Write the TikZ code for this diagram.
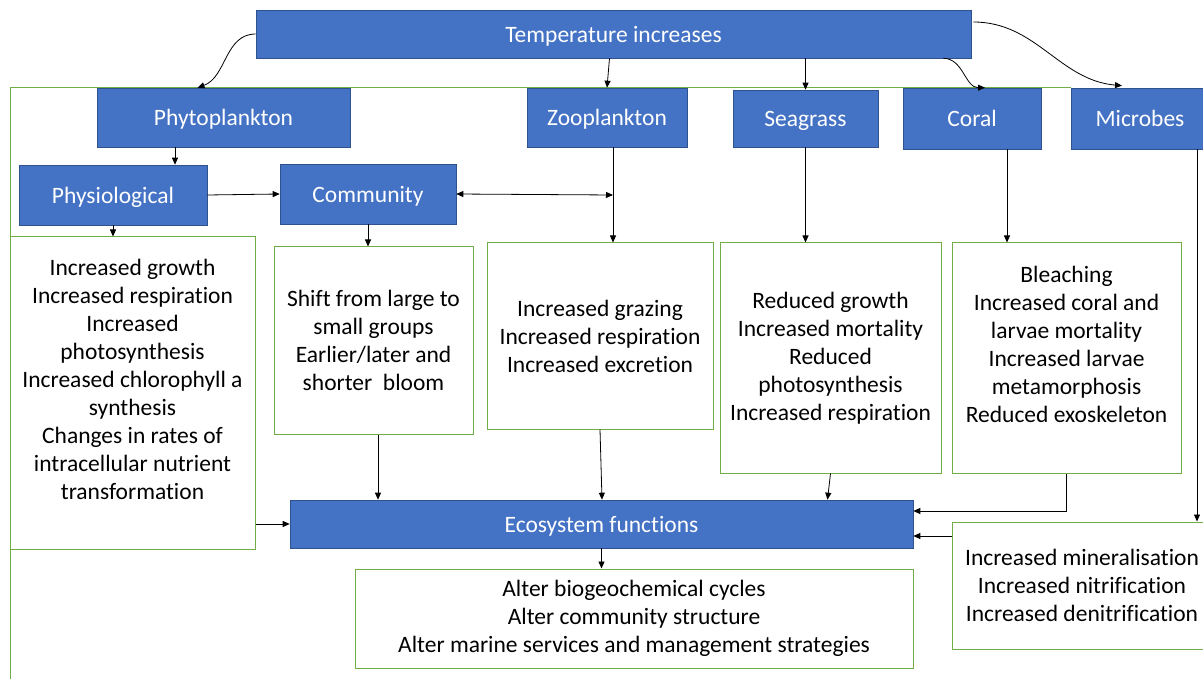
\documentclass[tikz,border=0pt]{standalone}
\usepackage{fontspec}
\setmainfont{Carlito}[Ligatures=NoCommon]
\usetikzlibrary{calc,arrows.meta}
\definecolor{bluefill}{HTML}{4472C4}
\definecolor{blueline}{HTML}{2F528F}
\definecolor{greenline}{HTML}{70AD47}
\tikzset{
  bbox/.style={rectangle, fill=bluefill, draw=blueline, line width=0.6pt, text=white, inner sep=0pt, align=center, text height=17pt, text depth=0pt, font=\fontsize{23.5}{28}\selectfont},
  gbox/.style={rectangle, fill=white, draw=greenline, line width=1pt, text=black, inner sep=0pt, align=center, font=\fontsize{23.5}{28}\selectfont},
  frameline/.style={draw=greenline, line width=1pt},
  arr/.style={draw=black, line width=0.8pt, -{Triangle[length=7pt,width=6pt]}},
  darr/.style={draw=black, line width=0.8pt, {Triangle[length=7pt,width=6pt]}-{Triangle[length=7pt,width=6pt]}}
}
\begin{document}
\begin{tikzpicture}[x=1pt,y=-1pt]
\useasboundingbox (0,0) rectangle (1203,679);
\clip (0,0) rectangle (1203,679);
\fill[white] (0,0) rectangle (1203,679);
% outer frame
\coordinate (fbl) at (10,690);
\coordinate (ftl) at (10,88);
\coordinate (ftr) at (1071,88);
\draw[frameline] (fbl) -- (ftl) -- (ftr);
% blue boxes
\node[bbox, minimum width=715, minimum height=48] (temp) at (613.5,34) {Temperature increases};
\node[bbox, minimum width=253, minimum height=59] (phyto) at (223.5,117.5) {Phytoplankton};
\node[bbox, minimum width=160, minimum height=59] (zoo) at (607,117.5) {Zooplankton};
\node[bbox, minimum width=145, minimum height=57] (sea) at (805.5,118.5) {Seagrass};
\node[bbox, minimum width=138, minimum height=61] (coral) at (972,118.5) {Coral};
\node[bbox, minimum width=138, minimum height=61] (microbes) at (1140,118.5) {Microbes};
\node[bbox, minimum width=188, minimum height=60] (phys) at (113,195) {Physiological};
\node[bbox, minimum width=176, minimum height=60] (comm) at (368,194) {Community};
\node[bbox, minimum width=623, minimum height=48] (eco) at (601.5,524) {Ecosystem functions};
% green text boxes
\node[gbox, minimum width=245, minimum height=312] (physbox) at (132.5,393) {Increased growth\\Increased respiration\\Increased\\photosynthesis\\Increased chlorophyll a\\synthesis\\Changes in rates of\\intracellular nutrient\\transformation\\~};
\node[gbox, minimum width=199, minimum height=187] (commbox) at (373.5,340.5) {Shift from large to\\small groups\\Earlier/later and\\shorter\ \ bloom};
\node[gbox, minimum width=226, minimum height=186] (zoobox) at (600,336) {Increased grazing\\Increased respiration\\Increased excretion};
\node[gbox, minimum width=221, minimum height=230] (seabox) at (830.5,358) {Reduced growth\\Increased mortality\\Reduced\\photosynthesis\\Increased respiration};
\node[gbox, minimum width=229, minimum height=230] (coralbox) at (1066.5,358) {Bleaching\\Increased coral and\\larvae mortality\\Increased larvae\\metamorphosis\\Reduced exoskeleton\\~};
\node[gbox, minimum width=260, minimum height=127] (microbox) at (1082,585.5) {Increased mineralisation\\Increased nitrification\\Increased denitrification};
\node[gbox, minimum width=558, minimum height=99] (alter) at (634,618.5) {Alter biogeochemical cycles\\Alter community structure\\Alter marine services and management strategies};
% connectors from temperature
\draw[arr] (temp.west) to[out=180,in=20] ($(phyto.north)+(-26,0)$);
\draw[arr] ($(temp.south)+(-4,0)$) -- ($(zoo.north)+(0,0)$);
\draw[arr] (temp.south -| sea.north) -- (sea.north);
\draw[arr] ($(temp.south east)+(-28,0)$) to[out=0,in=180] ($(coral.north)+(13,0)$);
\draw[arr] ($(temp.east)+(2,-12)$) to[out=0,in=175] ($(microbes.north)+(-18,-2)$);
% phytoplankton branch
\coordinate (xphy) at (175,0);
\draw[arr] (phyto.south -| xphy) -- (phys.north -| xphy);
\draw[arr] (phys.east) -- (comm.west);
\draw[arr] (phys.south) -- (physbox.north -| phys.south);
\draw[arr] (comm.south) -- (commbox.north -| comm.south);
% zooplankton branch
\coordinate (zj) at (613,195);
\draw[arr] (zoo.south -| zj) -- (zoobox.north -| zj);
\draw[darr] (comm.east) -- (zj);
% seagrass, coral, microbes
\draw[arr] (sea.south) -- (seabox.north -| sea.south);
\coordinate (xcor) at (1007,0);
\draw[arr] (coral.south -| xcor) -- (coralbox.north -| xcor);
\coordinate (xmic) at (1197,0);
\draw[arr] (microbes.south -| xmic) -- (microbox.north -| xmic);
% to ecosystem functions
\draw[arr] (eco.west -| physbox.east) -- (eco.west);
\coordinate (xcb) at (378,0);
\draw[arr] (commbox.south -| xcb) -- (eco.north -| xcb);
\draw[arr] (zoobox.south) -- ($(eco.north -| zoobox.south)+(2,0)$);
\draw[arr] (seabox.south) -- ($(eco.north -| seabox.south)+(-3,0)$);
\coordinate (ecoe1) at ($(eco.east)+(0,-13)$);
\draw[arr] (coralbox.south) |- (ecoe1);
\coordinate (ecoe2) at ($(eco.east)+(0,12)$);
\draw[arr] (microbox.west |- ecoe2) -- (ecoe2);
\draw[arr] (eco.south) -- (alter.north -| eco.south);
\end{tikzpicture}
\end{document}
